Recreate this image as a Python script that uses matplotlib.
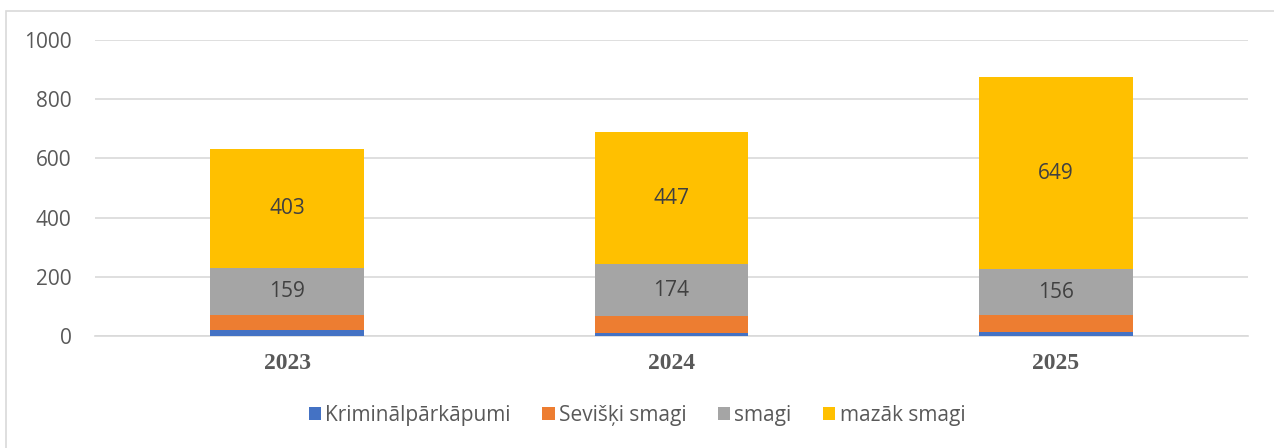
import numpy as np
import matplotlib.pyplot as plt
from matplotlib.patches import Rectangle

years = ['2023', '2024', '2025']
kriminal = [19, 10, 14]
sevisku = [51, 58, 56]
smagi = [159, 174, 156]
mazak = [403, 447, 649]

series = [
    ('Kriminālpārkāpumi', kriminal, '#4472c4', False),
    ('Sevišķi smagi', sevisku, '#ed7d31', False),
    ('smagi', smagi, '#a5a5a5', True),
    ('mazāk smagi', mazak, '#ffc000', True),
]

plt.rcParams['font.family'] = ['Open Sans', 'DejaVu Sans']

fig = plt.figure(figsize=(12.74, 4.48), dpi=100)
ax = fig.add_axes([95 / 1274, 1 - 336 / 448, 1153 / 1274, 296 / 448])

x = np.arange(len(years))
bottom = np.zeros(len(years))
handles = []
for name, vals, color, show in series:
    vals = np.array(vals)
    b = ax.bar(x, vals, 0.4, bottom=bottom, color=color, label=name, zorder=3)
    handles.append(b)
    if show:
        for xi, v, bt in zip(x, vals, bottom):
            ax.text(xi, bt + v / 2, str(v), ha='center', va='center',
                    fontsize=15, color='#404040', zorder=4)
    bottom = bottom + vals

ax.set_xlim(-0.5, 2.5)
ax.set_ylim(0, 1000)
ax.set_yticks(range(0, 1001, 200))
ax.yaxis.grid(True, color='#d9d9d9', linewidth=1.2, zorder=0)
ax.tick_params(axis='y', length=0, pad=17, labelsize=15, labelcolor='#595959')
ax.tick_params(axis='x', length=0, pad=12)
ax.set_xticks(x)
ax.set_xticklabels(years, fontfamily='Liberation Serif', fontweight='bold',
                   fontsize=17, color='#595959')
for s in ['top', 'right', 'left']:
    ax.spines[s].set_visible(False)
ax.spines['bottom'].set_color('#d9d9d9')
ax.spines['bottom'].set_linewidth(1.2)

fig.legend(handles=handles, loc='center', bbox_to_anchor=(0.5, 1 - 415 / 448),
           ncol=4, frameon=False, fontsize=15, handlelength=0.6,
           handleheight=0.6, handletextpad=0.2, columnspacing=1.5,
           labelcolor='#595959')

fig.patches.append(Rectangle((6 / 1274, -0.1), 1.2, 1 - 11 / 448 + 0.1,
                             transform=fig.transFigure, fill=False,
                             edgecolor='#d9d9d9', linewidth=1.2))

fig.savefig('out.png', dpi=100)
